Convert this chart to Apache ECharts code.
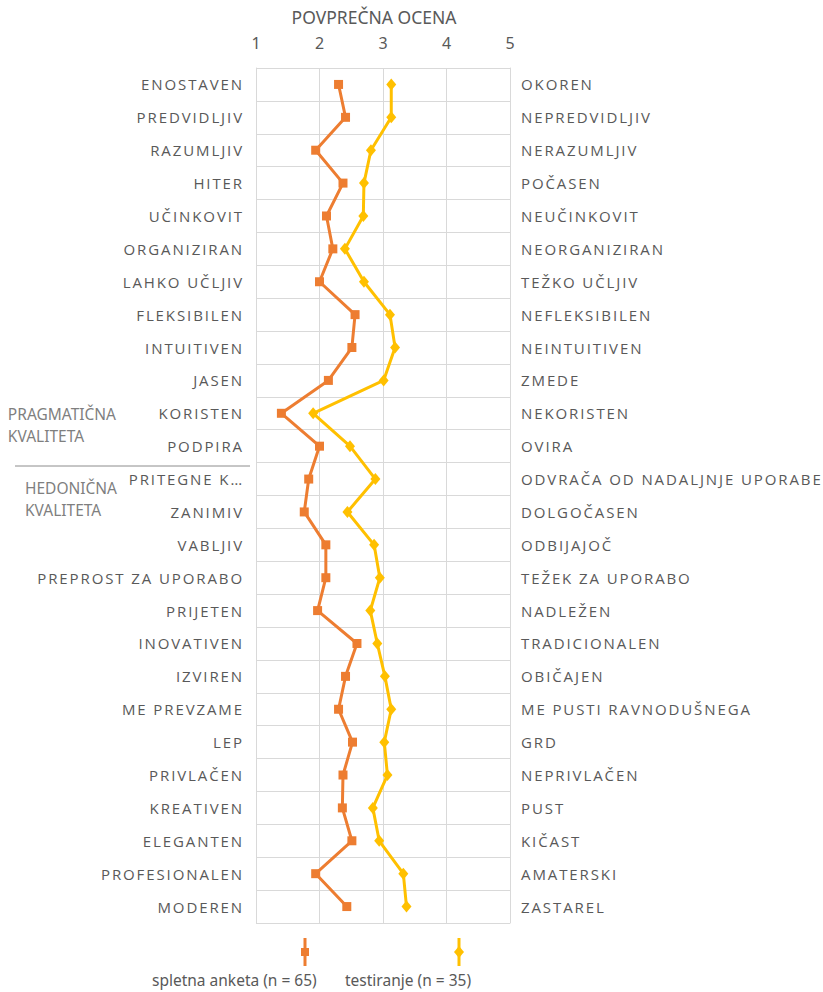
<!DOCTYPE html>
<html>
<head>
<meta charset="utf-8">
<script src="https://cdn.jsdelivr.net/npm/echarts@6/dist/echarts.min.js"></script>
<style>
  html, body { margin: 0; padding: 0; background: #fff; }
  #chart { width: 823px; height: 992px; }
  /* razmik med črkami za oznake kategorij */
  #chart text[style*="Open Sans"] { letter-spacing: 1.9px; }
</style>
</head>
<body>
<div id="chart"></div>
<script>
// pozitivni pol (levo)
const leftLabels = [
  'ENOSTAVEN', 'PREDVIDLJIV', 'RAZUMLJIV', 'HITER', 'UČINKOVIT', 'ORGANIZIRAN',
  'LAHKO UČLJIV', 'FLEKSIBILEN', 'INTUITIVEN', 'JASEN', 'KORISTEN', 'PODPIRA',
  'PRITEGNE K…', 'ZANIMIV', 'VABLJIV', 'PREPROST ZA UPORABO', 'PRIJETEN', 'INOVATIVEN',
  'IZVIREN', 'ME PREVZAME', 'LEP', 'PRIVLAČEN', 'KREATIVEN', 'ELEGANTEN',
  'PROFESIONALEN', 'MODEREN'
]
// negativni pol (desno)
const rightLabels = [
  'OKOREN', 'NEPREDVIDLJIV', 'NERAZUMLJIV', 'POČASEN', 'NEUČINKOVIT', 'NEORGANIZIRAN',
  'TEŽKO UČLJIV', 'NEFLEKSIBILEN', 'NEINTUITIVEN', 'ZMEDE', 'NEKORISTEN', 'OVIRA',
  'ODVRAČA OD NADALJNJE UPORABE', 'DOLGOČASEN', 'ODBIJAJOČ', 'TEŽEK ZA UPORABO', 'NADLEŽEN', 'TRADICIONALEN',
  'OBIČAJEN', 'ME PUSTI RAVNODUŠNEGA', 'GRD', 'NEPRIVLAČEN', 'PUST', 'KIČAST',
  'AMATERSKI', 'ZASTAREL'
]
// spletna anketa (n = 65)
const spletna = [
  2.30, 2.41, 1.94, 2.37, 2.11, 2.21,
  2.00, 2.56, 2.51, 2.14, 1.40, 2.00,
  1.83, 1.76, 2.10, 2.10, 1.97, 2.59,
  2.41, 2.30, 2.52, 2.37, 2.36, 2.51,
  1.94, 2.43
]
// testiranje (n = 35)
const testiranje = [
  3.13, 3.13, 2.81, 2.70, 2.69, 2.40,
  2.70, 3.11, 3.19, 3.01, 1.90, 2.48,
  2.88, 2.44, 2.86, 2.95, 2.80, 2.91,
  3.03, 3.13, 3.02, 3.07, 2.84, 2.94,
  3.32, 3.37
]
const seriesNames = ['spletna anketa (n = 65)', 'testiranje (n = 35)']
const seriesColors = ['#ED7D31', '#FFC000']

const textGray = '#595959'
const lightGray = '#7f7f7f'
const gridColor = '#d9d9d9'
const baseFont = 'Noto Sans'

const chart = echarts.init(document.getElementById('chart'), null, { renderer: 'svg' })

const option = {
  backgroundColor: '#fff',
  animation: false,
  title: {
    text: 'POVPREČNA OCENA',
    left: 369,
    textAlign: 'center',
    top: 3,
    textStyle: { color: textGray, fontSize: 17.5, fontWeight: 'normal', fontFamily: baseFont }
  },
  grid: { left: 256, right: 313, top: 68, bottom: 69 },
  xAxis: {
    type: 'value',
    position: 'top',
    min: 1,
    max: 5,
    interval: 1,
    axisLine: { show: false },
    axisTick: { show: false },
    axisLabel: { color: textGray, fontSize: 16, fontFamily: baseFont, margin: 17 },
    splitLine: { lineStyle: { color: gridColor, width: 1 } }
  },
  yAxis: [
    {
      type: 'category',
      data: leftLabels,
      inverse: true,
      position: 'left',
      axisLine: { lineStyle: { color: gridColor } },
      axisTick: { show: false },
      axisLabel: { color: textGray, fontSize: 15, fontFamily: 'Open Sans', margin: 12 },
      splitLine: { show: true, lineStyle: { color: gridColor, width: 1 } }
    },
    {
      type: 'category',
      data: rightLabels,
      inverse: true,
      position: 'right',
      axisLine: { lineStyle: { color: gridColor } },
      axisTick: { show: false },
      axisLabel: { color: textGray, fontSize: 15, fontFamily: 'Open Sans', margin: 11 },
      splitLine: { show: false }
    }
  ],
  series: [
    {
      name: seriesNames[0],
      type: 'line',
      yAxisIndex: 0,
      data: spletna.map((v, i) => [v, i]),
      symbol: 'rect',
      symbolSize: 9,
      lineStyle: { color: seriesColors[0], width: 3 },
      itemStyle: { color: seriesColors[0] },
      z: 3
    },
    {
      name: seriesNames[1],
      type: 'line',
      yAxisIndex: 0,
      data: testiranje.map((v, i) => [v, i]),
      symbol: 'diamond',
      symbolSize: [10, 12],
      lineStyle: { color: seriesColors[1], width: 3 },
      itemStyle: { color: seriesColors[1] },
      z: 2
    }
  ],
  graphic: [
    // skupine
    {
      type: 'text', right: 823 - 116, top: 403,
      style: { text: 'PRAGMATIČNA\nKVALITETA', fill: lightGray, font: '15.5px "Noto Sans"', align: 'right', lineHeight: 22 }
    },
    {
      type: 'text', right: 823 - 117, top: 477,
      style: { text: 'HEDONIČNA\nKVALITETA', fill: lightGray, font: '15.5px "Noto Sans"', align: 'right', lineHeight: 22 }
    },
    {
      type: 'line',
      shape: { x1: 15, y1: 466, x2: 250, y2: 466 },
      style: { stroke: '#8c8c8c', lineWidth: 1 }
    },
    // legenda
    {
      type: 'line',
      shape: { x1: 305, y1: 938, x2: 305, y2: 966 },
      style: { stroke: seriesColors[0], lineWidth: 3 }
    },
    {
      type: 'rect',
      shape: { x: 301, y: 948, width: 8, height: 8 },
      style: { fill: seriesColors[0] }
    },
    {
      type: 'line',
      shape: { x1: 459, y1: 938, x2: 459, y2: 966 },
      style: { stroke: seriesColors[1], lineWidth: 3 }
    },
    {
      type: 'polygon',
      shape: { points: [[459, 946], [464, 952], [459, 958], [454, 952]] },
      style: { fill: seriesColors[1] }
    },
    {
      type: 'text', left: 152, top: 972,
      style: { text: seriesNames[0], fill: textGray, font: '15.5px "Noto Sans"' }
    },
    {
      type: 'text', left: 345, top: 972,
      style: { text: seriesNames[1], fill: textGray, font: '15.5px "Noto Sans"' }
    }
  ]
}

chart.setOption(option)
</script>
</body>
</html>
